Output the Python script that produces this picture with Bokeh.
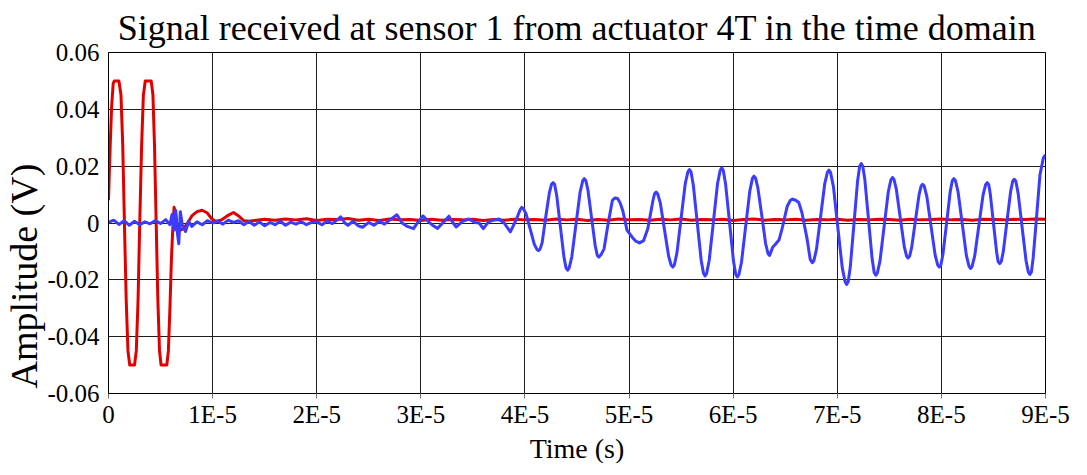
from bokeh.plotting import figure
from bokeh.models import Range1d, FixedTicker, Title, CustomJSTickFormatter
from bokeh.embed import file_html
from bokeh.resources import INLINE

title_text = "Signal received at sensor 1 from actuator 4T in the time domain"
x_label = "Time (s)"
y_label = "Amplitude (V)"

x_ticks = [0.0, 1e-05, 2e-05, 3e-05, 4e-05, 5e-05, 6e-05, 7e-05, 8e-05, 9e-05]
x_tick_labels = ["0", "1E-5", "2E-5", "3E-5", "4E-5", "5E-5", "6E-5", "7E-5", "8E-5", "9E-5"]
y_ticks = [-0.06, -0.04, -0.02, 0.0, 0.02, 0.04, 0.06]
y_tick_labels = ["-0.06", "-0.04", "-0.02", "0", "0.02", "0.04", "0.06"]

# actuator signal (red), time in microseconds, amplitude in volts
red_t_us = [0, 0.15, 0.3, 0.45, 0.55, 1.0, 1.2, 1.37, 1.53, 1.7, 1.87, 2.04, 2.5, 2.67, 2.84, 3.0,
            3.18, 3.35, 3.53, 4.1, 4.27, 4.42, 4.58, 4.74, 4.9, 5.05, 5.6, 5.75, 5.9, 6.05, 6.2,
            6.3, 6.45, 6.6, 6.9, 7.2, 7.6, 8.0, 8.5, 9.0, 9.5, 9.9, 10.3, 10.8, 11.4, 12.0, 12.5,
            13.0, 13.5, 14.0, 15.0, 16.0, 17.0, 18.0, 19.0, 20.0, 21.0, 22.0, 23.0, 24.0, 25.0,
            26.0, 27.0, 28.0, 29.0, 30.0, 31.0, 32.0, 33.0, 34.0, 35.0, 36.0, 37.0, 38.0, 39.0,
            40.0, 41.0, 42.0, 43.0, 44.0, 45.0, 46.0, 47.0, 48.0, 49.0, 50.0, 51.0, 52.0, 53.0,
            54.0, 55.0, 56.0, 57.0, 58.0, 59.0, 60.0, 61.0, 62.0, 63.0, 64.0, 65.0, 66.0, 67.0,
            68.0, 69.0, 70.0, 71.0, 72.0, 73.0, 74.0, 75.0, 76.0, 77.0, 78.0, 79.0, 80.0, 81.0,
            82.0, 83.0, 84.0, 85.0, 86.0, 87.0, 88.0, 89.0, 90.0]
red_v = [0.008, 0.026, 0.041, 0.049, 0.050, 0.050, 0.045, 0.027, 0.0, -0.027, -0.045, -0.050,
         -0.050, -0.045, -0.027, 0.0, 0.027, 0.045, 0.050, 0.050, 0.045, 0.027, 0.0, -0.027,
         -0.045, -0.050, -0.050, -0.045, -0.030, -0.012, 0.0, 0.0055, 0.0035, -0.0015, -0.0025,
         -0.0020, 0.0, 0.0025, 0.0040, 0.0045, 0.0035, 0.0015, 0.0006, 0.0010, 0.0025, 0.0037,
         0.0025, 0.0008, 0.0006, 0.0009, 0.0013, 0.0010, 0.0014, 0.0011, 0.0015, 0.0009, 0.0013,
         0.0012, 0.0016, 0.0010, 0.0013, 0.0009, 0.0014, 0.0011, 0.0012, 0.0009, 0.0013, 0.0010,
         0.0012, 0.0011, 0.0013, 0.0009, 0.0012, 0.0010, 0.0013, 0.0011, 0.0012, 0.0010, 0.0014,
         0.0011, 0.0013, 0.0009, 0.0012, 0.0010, 0.0014, 0.0011, 0.0012, 0.0010, 0.0013, 0.0011,
         0.0014, 0.0010, 0.0012, 0.0011, 0.0013, 0.0009, 0.0012, 0.0014, 0.0010, 0.0012, 0.0011,
         0.0013, 0.0010, 0.0012, 0.0011, 0.0013, 0.0010, 0.0012, 0.0011, 0.0013, 0.0012, 0.0010,
         0.0013, 0.0011, 0.0012, 0.0014, 0.0011, 0.0012, 0.0010, 0.0013, 0.0012, 0.0011, 0.0013,
         0.0012, 0.0014, 0.0013]

# sensor signal (blue), time in microseconds, amplitude in volts
blue_t_us = [0.0, 0.5, 1.0, 1.5, 2.0, 2.5, 3.0, 3.5, 4.0, 4.5, 5.0, 5.5, 5.9, 6.1, 6.3, 6.45,
             6.6, 6.75, 6.9, 7.1, 7.4, 7.7, 8.0, 8.5, 9.0, 9.5, 10.0, 10.5, 11.0, 11.5, 12.0,
             12.5, 13.0, 13.5, 14.0, 14.5, 15.0, 15.5, 16.0, 16.5, 17.0, 17.5, 18.0, 18.5, 19.0,
             19.5, 20.0, 20.5, 21.0, 21.5, 22.0, 22.3, 22.7, 23.0, 23.5, 24.0, 24.4, 25.0, 25.5,
             26.0, 26.5, 27.0, 27.7, 28.2, 28.7, 29.3, 29.6, 30.2, 30.7, 31.2, 31.6, 32.1, 32.7,
             33.1, 33.4, 34.0, 34.6, 35.2, 35.6, 36.0, 36.5, 37.0, 37.5, 38.0, 38.6, 39.2,
             39.55, 39.7, 39.85, 40.1, 40.5, 40.9, 41.15, 41.3, 41.45, 41.65, 42.0, 42.35, 42.55,
             42.7, 42.85, 43.05, 43.4, 43.75, 43.95, 44.1, 44.25, 44.5, 44.9, 45.3, 45.55, 45.7,
             45.85, 46.05, 46.4, 46.75, 46.95, 47.1, 47.3, 47.6, 48.0, 48.4, 48.65, 48.9, 49.15,
             49.4, 49.8, 50.3, 50.65, 51.0, 51.4, 51.8, 52.3, 52.45, 52.6, 52.75, 53.0, 53.4,
             53.8, 54.05, 54.2, 54.35, 54.6, 55.0, 55.4, 55.65, 55.8, 55.95, 56.17, 56.55, 56.93,
             57.15, 57.3, 57.45, 57.7, 58.1, 58.5, 58.75, 58.9, 59.05, 59.27, 59.65, 60.03, 60.25,
             60.4, 60.55, 60.8, 61.2, 61.6, 61.85, 62.0, 62.15, 62.37, 62.75, 63.12, 63.35, 63.5,
             63.8, 64.1, 64.4, 64.7, 65.2, 65.5, 65.7, 66.0, 66.3, 66.6, 67.1, 67.4, 67.6, 67.75,
             68.0, 68.4, 68.8, 69.05, 69.2, 69.35, 69.63, 70.05, 70.48, 70.75, 70.9, 71.05,
             71.25, 71.6, 71.95, 72.15, 72.3, 72.45, 72.65, 73.0, 73.35, 73.55, 73.7, 73.85, 74.1,
             74.5, 74.9, 75.15, 75.3, 75.45, 75.67, 76.05, 76.43, 76.65, 76.8, 76.95, 77.15, 77.5,
             77.85, 78.05, 78.2, 78.35, 78.6, 79.0, 79.4, 79.65, 79.8, 79.95, 80.15, 80.5, 80.85,
             81.05, 81.2, 81.35, 81.6, 82.0, 82.4, 82.65, 82.8, 82.95, 83.2, 83.6, 84.0, 84.25,
             84.4, 84.55, 84.7, 85.0, 85.3, 85.45, 85.6, 85.75, 85.95, 86.3, 86.65, 86.85, 87.0,
             87.15, 87.37, 87.75, 88.13, 88.35, 88.5, 88.65, 88.82, 89.15, 89.47, 89.8, 90.0]
blue_v = [0.0002, 0.0010, -0.0005, 0.0008, -0.0008, 0.0006, -0.0006, 0.0004, -0.0003, 0.0009,
          -0.0002, 0.0012, -0.0006, 0.0030, -0.0025, 0.0045, -0.0030, -0.0073, 0.0040, -0.0010,
          -0.0030, 0.0006, -0.0012, 0.0004, -0.0006, 0.0008, 0.0, 0.0006, -0.0004, 0.0010,
          0.0002, 0.0008, -0.0006, 0.0005, -0.0008, 0.0004, -0.0010, 0.0002, -0.0006, 0.0006,
          -0.0008, 0.0003, -0.0004, 0.0005, -0.0006, 0.0002, 0.0004, -0.0006, 0.0007, -0.0002,
          0.0012, 0.0022, 0.0, -0.0008, 0.0006, -0.0010, -0.0015, 0.0002, -0.0008, 0.0006,
          -0.0004, 0.0010, 0.0029, 0.0, -0.0012, -0.0020, -0.0003, 0.0025, 0.0006, -0.0010,
          -0.0019, 0.0, 0.0024, 0.0, -0.0014, 0.0006, 0.0014, 0.0002, 0.0, -0.0020, 0.0004,
          0.0010, 0.0014, 0.0, -0.0031, 0.0015,
          0.0048, 0.0055, 0.0050, 0.0033, -0.0021, -0.0075, -0.0093, -0.0097, -0.0092, -0.0070,
          0.0022, 0.0107, 0.0136, 0.0142, 0.0136, 0.0097, -0.0012, -0.0121, -0.0158, -0.0166,
          -0.0158, -0.0119, -0.0005, 0.0109, 0.0148, 0.0156, 0.0149, 0.0116, 0.0018, -0.0080,
          -0.0114, -0.0120, -0.0112, -0.0091, 0.0000, 0.0080, 0.0088, 0.0086, 0.0070, 0.0043,
          -0.0025, -0.0050, -0.0064, -0.0070, -0.0062, -0.0020, 0.0080, 0.0103, 0.0109, 0.0102,
          0.0071, -0.0023, -0.0117, -0.0149, -0.0155, -0.0148, -0.0105, 0.0017, 0.0139, 0.0180,
          0.0188, 0.0180, 0.0134, 0.0001, -0.0132, -0.0177, -0.0186, -0.0178, -0.0131, 0.0004,
          0.0139, 0.0185, 0.0194, 0.0185, 0.0138, 0.0002, -0.0134, -0.0181, -0.0190, -0.0182,
          -0.0138, -0.0012, 0.0113, 0.0157, 0.0165, 0.0158, 0.0124, 0.0026, -0.0073, -0.0108,
          -0.0114, -0.0085, -0.0073, -0.0060, -0.0020, 0.0060, 0.0080, 0.0084, 0.0080, 0.0072,
          0.0037, -0.0056, -0.0128, -0.0140, -0.0133, -0.0093, 0.0023, 0.0139, 0.0178, 0.0186,
          0.0178, 0.0128, -0.0015, -0.0158, -0.0207, -0.0216, -0.0207, -0.0154, -0.0004, 0.0147,
          0.0200, 0.0209, 0.0200, 0.0152, 0.0012, -0.0127, -0.0175, -0.0184, -0.0176, -0.0134,
          -0.0012, 0.0110, 0.0152, 0.0160, 0.0153, 0.0119, 0.0018, -0.0082, -0.0116, -0.0123,
          -0.0117, -0.0085, 0.0007, 0.0098, 0.0130, 0.0136, 0.0130, 0.0094, -0.0010, -0.0113,
          -0.0148, -0.0155, -0.0148, -0.0110, 0.0000, 0.0111, 0.0149, 0.0156, 0.0149, 0.0110,
          -0.0002, -0.0114, -0.0152, -0.0160, -0.0153, -0.0116, -0.0009, 0.0098, 0.0135, 0.0142,
          0.0135, 0.0101, 0.0000, -0.0101, -0.0136, -0.0143, -0.0136, -0.0100, 0.0006, 0.0111,
          0.0147, 0.0154, 0.0147, 0.0105, -0.0014, -0.0132, -0.0173, -0.0181, -0.0172, -0.0121,
          0.0025, 0.0170, 0.0230, 0.0240]

red_t = [t * 1e-6 for t in red_t_us]
blue_t = [t * 1e-6 for t in blue_t_us]

FONT = "Liberation Serif"
FONT_ALIAS = "Times New Roman"

p = figure(frame_width=937, frame_height=341,
           min_border_left=108, min_border_right=26, min_border_top=52, min_border_bottom=66,
           x_range=Range1d(0, 9e-5), y_range=Range1d(-0.06, 0.06),
           output_backend="svg", toolbar_location=None, title=title_text)

p.title.text_font = FONT
p.title.text_font_size = "36px"
p.title.text_font_style = "normal"
p.title.text_color = "black"
p.title.align = "center"
p.title.standoff = 9
p.title.offset = 0

p.background_fill_color = "white"
p.border_fill_color = "white"
p.outline_line_color = "black"
p.outline_line_width = 1

p.xaxis.ticker = FixedTicker(ticks=x_ticks)
p.yaxis.ticker = FixedTicker(ticks=y_ticks)
p.xaxis.formatter = CustomJSTickFormatter(args=dict(labels=x_tick_labels), code="return labels[index];")
p.yaxis.formatter = CustomJSTickFormatter(args=dict(labels=y_tick_labels), code="return labels[index];")

for ax in (p.xaxis[0], p.yaxis[0]):
    ax.major_label_text_font = FONT_ALIAS
    ax.major_label_text_font_size = "25px"
    ax.major_label_text_font_style = "normal"
    ax.major_label_text_color = "black"
    ax.minor_tick_line_color = None
    ax.axis_line_color = "black"
    ax.axis_line_width = 1

p.xaxis.major_tick_out = 5
p.xaxis.major_tick_in = 0
p.xaxis.major_tick_line_color = "#707070"
p.xaxis.major_label_standoff = 2
p.yaxis.major_tick_out = 0
p.yaxis.major_tick_in = 0
p.yaxis.major_tick_line_color = None
p.yaxis.major_label_standoff = 9

p.xgrid.ticker = FixedTicker(ticks=x_ticks)
p.ygrid.ticker = FixedTicker(ticks=y_ticks)
p.grid.grid_line_color = "#1e1e1e"
p.grid.grid_line_width = 1

p.line(red_t, red_v, line_color="#e00000", line_width=3, line_join="round")
p.line(blue_t, blue_v, line_color="#3c3cff", line_width=3, line_join="round")

p.add_layout(Title(text=y_label, align="left", offset=5, standoff=0,
                   text_font=FONT_ALIAS, text_font_size="38px", text_font_style="normal",
                   text_color="black"), "left")
p.add_layout(Title(text=x_label, align="center", standoff=0,
                   text_font=FONT, text_font_size="28px", text_font_style="normal",
                   text_color="black"), "below")

open("out.html", "w").write(file_html(p, INLINE))
